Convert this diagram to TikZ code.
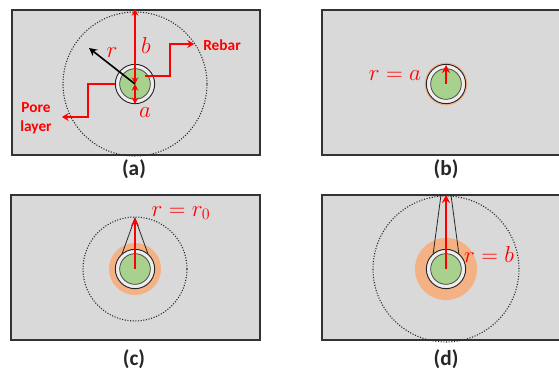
\documentclass[tikz,border=0pt]{standalone}
\usepackage{fontspec}
\setmainfont{Carlito}
\usetikzlibrary{arrows.meta}
\definecolor{panelgray}{HTML}{D9D9D9}
\definecolor{rebargreen}{HTML}{A9D18E}
\definecolor{poreorange}{HTML}{F4B183}
\definecolor{ringgray}{HTML}{EDEDED}
\definecolor{edgegray}{HTML}{333333}
\tikzset{
  panel/.style={draw=edgegray,line width=1.3pt,fill=panelgray,rectangle,inner sep=0pt,minimum height=108.75pt,anchor=north west},
  dotcircle/.style={circle,draw=black!85,line width=0.8pt,dash pattern=on 0.8pt off 1.2pt,inner sep=0pt},
  orangedisc/.style={circle,fill=poreorange,inner sep=0pt},
  ringc/.style={circle,draw=black!85,line width=0.7pt,fill=ringgray,minimum size=29.5pt,inner sep=0pt},
  greenc/.style={circle,draw=black!75,line width=0.55pt,fill=rebargreen,minimum size=23pt,inner sep=0pt},
  redarrow/.style={draw=red,line width=1.2pt,-{Stealth[length=6pt,width=6pt]}},
  thinred/.style={draw=red,line width=1pt,-{Stealth[length=5pt,width=6pt]}},
  redboth/.style={draw=red,line width=1pt,{Stealth[length=5pt,width=5pt]}-{Stealth[length=5pt,width=5pt]}},
  cone/.style={draw=black!85,line width=0.6pt},
  caption/.style={font=\fontsize{16}{18}\selectfont\bfseries,text=black!85},
  redlabel/.style={font=\fontsize{11.5}{13}\selectfont\bfseries,text=red},
  mathlabel/.style={font=\fontsize{17}{19}\selectfont,text=red,inner sep=0pt},
}
\begin{document}
\begin{tikzpicture}[x=0.75pt,y=-0.75pt]
\useasboundingbox (0,0) rectangle (559,370);
% panels
\node[panel,minimum width=186pt] (pa) at (11,9) {};
\node[panel,minimum width=190pt] (pb) at (321,9) {};
\node[panel,minimum width=186.75pt] (pc) at (10,194) {};
\node[panel,minimum width=190pt] (pd) at (321,194) {};
% panel a
\coordinate (ca) at (135,84);
\node[dotcircle,minimum size=108pt] (da) at (ca) {};
\node[ringc] (ra) at (ca) {};
\node[greenc] (ga) at (ca) {};
\coordinate (btop) at (135,9);
\coordinate (abot) at (135,104);
\coordinate (rend) at (89,48);
\coordinate (rebarstart) at (145,76);
\coordinate (rebarend) at (194,44);
\coordinate (porestart) at (115,84);
\coordinate (poreend) at (62,117);
\draw[redboth] (btop) -- (ca);
\draw[redboth] (ca) -- (abot);
\draw[black,line width=1.2pt,-{Stealth[length=6pt,width=6pt]}] (ca) -- (rend);
\draw[thinred] (rebarstart) -- (170,76) -- (170,44) -- (rebarend);
\draw[thinred] (porestart) -- (88,84) -- (88,117) -- (poreend);
\node[redlabel] (lrebar) at (222,45) {Rebar};
\node[redlabel,align=center,font=\fontsize{11.5}{14.5}\selectfont\bfseries] (lpore) at (36,118) {Pore\\layer};
\node[mathlabel] (la) at (145,113) {$a$};
\node[mathlabel] (lb) at (146,46) {$b$};
\node[mathlabel] (lr) at (112,53) {$r$};
\node[caption] (capa) at (134,169) {(a)};
% panel b
\coordinate (cb) at (446,84);
\node[orangedisc,minimum size=32pt] (ob) at (cb) {};
\node[ringc] (rb) at (cb) {};
\node[greenc] (gb) at (cb) {};
\coordinate (bend) at (446,65);
\draw[redarrow] (cb) -- (bend);
\node[mathlabel] (lbb) at (395,76) {$r=a$};
\node[caption] (capb) at (446,169) {(b)};
% panel c
\coordinate (cc) at (135,269);
\node[orangedisc,minimum size=39pt] (oc) at (cc) {};
\node[dotcircle,minimum size=78pt] (dc) at (cc) {};
\coordinate (ctop) at (135,218);
\draw[cone] (122,254) -- (ctop) -- (148,254);
\node[ringc] (rc) at (cc) {};
\node[greenc] (gc) at (cc) {};
\draw[redarrow] (cc) -- (ctop);
\node[mathlabel] (lc) at (181,213) {$r=r_0$};
\node[caption] (capc) at (134,359) {(c)};
% panel d
\coordinate (cd) at (446,269);
\node[orangedisc,minimum size=46.5pt] (od) at (cd) {};
\node[dotcircle,minimum size=109.5pt] (dd) at (cd) {};
\draw[cone] (433,255) -- (441,195);
\draw[cone] (459,255) -- (451,195);
\node[ringc] (rd) at (cd) {};
\node[greenc] (gd) at (cd) {};
\coordinate (dtop) at (446,195);
\draw[redarrow] (cd) -- (dtop);
\node[mathlabel] (ld) at (489,254) {$r=b$};
\node[caption] (capd) at (446,359) {(d)};
\end{tikzpicture}
\end{document}
